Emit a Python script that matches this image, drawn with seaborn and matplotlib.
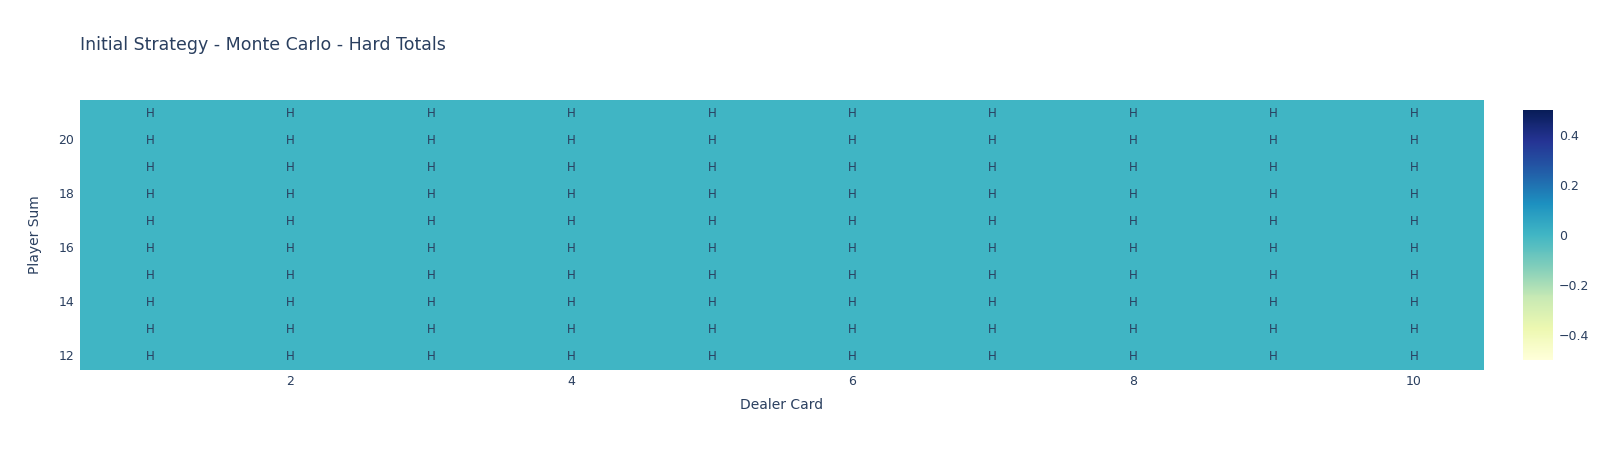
import numpy as np
import pandas as pd
import matplotlib
matplotlib.use("Agg")
import matplotlib.pyplot as plt
import seaborn as sns

dealer_cards = [1, 2, 3, 4, 5, 6, 7, 8, 9, 10]
player_sums = [12, 13, 14, 15, 16, 17, 18, 19, 20, 21]
# initial policy: every state is 0 ("H" = hit)
values = [[0, 0, 0, 0, 0, 0, 0, 0, 0, 0] for _ in player_sums]
labels = [["H"] * len(dealer_cards) for _ in player_sums]

df = pd.DataFrame(values, index=player_sums, columns=dealer_cards).iloc[::-1]
annot = np.array(labels)[::-1]

sns.set_style("white")
plt.rcParams["font.family"] = ["DejaVu Sans"]
txt = "#2a3f5f"

fig = plt.figure(figsize=(16.05, 4.5), dpi=100)
ax = fig.add_axes([0.0498, 0.178, 0.8748, 0.600])
cax = fig.add_axes([0.949, 0.2, 0.0187, 0.556])

sns.heatmap(df, ax=ax, cbar_ax=cax, cmap="YlGnBu", vmin=-0.5, vmax=0.5,
            annot=annot, fmt="", annot_kws={"color": txt, "fontsize": 8.5},
            linewidths=0, edgecolor="none", antialiased=False)
for s in ax.spines.values():
    s.set_visible(False)

# show only even ticks like the original
xt = [i + 0.5 for i, c in enumerate(df.columns) if c % 2 == 0]
ax.set_xticks(xt)
ax.set_xticklabels([c for c in df.columns if c % 2 == 0])
yt = [i + 0.5 for i, r in enumerate(df.index) if r % 2 == 0]
ax.set_yticks(yt)
ax.set_yticklabels([r for r in df.index if r % 2 == 0], rotation=0)
ax.tick_params(length=0, labelsize=9, colors=txt, pad=4)

ax.set_xlabel("Dealer Card", fontsize=10, color=txt, labelpad=7)
ax.set_ylabel("Player Sum", fontsize=10, color=txt, labelpad=12)
fig.text(0.0498, 0.9, "Initial Strategy - Monte Carlo - Hard Totals",
         fontsize=12.5, color=txt, va="center", ha="left")

cax.set_yticks([-0.4, -0.2, 0, 0.2, 0.4])
cax.set_yticklabels(["\u22120.4", "\u22120.2", "0", "0.2", "0.4"])
cax.tick_params(length=0, labelsize=9, colors=txt, pad=4)
for s in cax.spines.values():
    s.set_visible(False)

plt.savefig("out.png", dpi=100)
